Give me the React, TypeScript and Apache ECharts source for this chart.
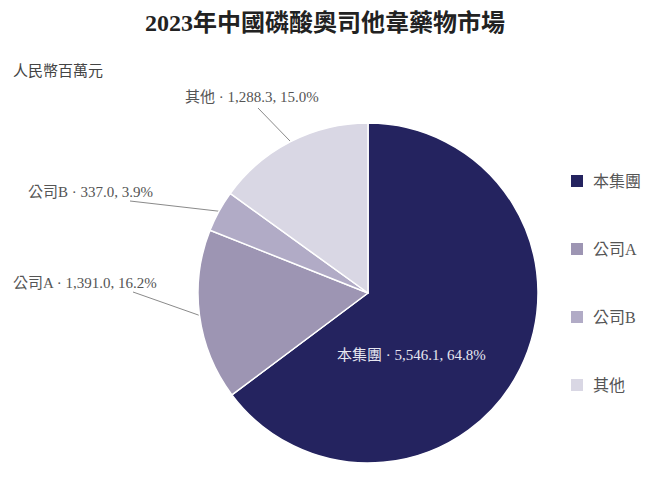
import React, { useEffect, useRef } from "react";
import * as echarts from "echarts";

const categories = ["本集團", "公司A", "公司B", "其他"];
const values = [5546.1, 1391.0, 337.0, 1288.3];
const percents = [64.8, 16.2, 3.9, 15.0];
const colors = ["#24235f", "#9d95b3", "#b1abc6", "#d9d7e4"];
const titleText = "2023年中國磷酸奧司他韋藥物市場";
const unitText = "人民幣百萬元";

const SERIF = "'Liberation Serif', 'DejaVu Serif', 'Noto Sans CJK TC', serif";

// label anchor positions and leader-line ends (layout only)
const labelPos: Record<number, { x: number; y: number; lx?: number; ly?: number }> = {
  0: { x: 337, y: 355 },
  1: { x: 13, y: 283, lx: 133, ly: 292 },
  2: { x: 28, y: 192, lx: 130, ly: 201 },
  3: { x: 185, y: 97, lx: 258, ly: 108 },
};

const fmt = (v: number) =>
  v.toLocaleString("en-US", { minimumFractionDigits: 1, maximumFractionDigits: 1 });

export default function App() {
  const ref = useRef<HTMLDivElement>(null);
  useEffect(() => {
    if (!ref.current) return;
    const chart = echarts.init(ref.current, null, { renderer: "svg" });
    const data = categories.map((name, i) => ({
      name,
      value: values[i],
      itemStyle: { color: colors[i] },
      label: i === 0 ? { color: "#e6e6ef" } : {},
      labelLine: { show: i !== 0 },
    }));
    chart.setOption({
      animation: false,
      backgroundColor: "#ffffff",
      title: {
        text: titleText,
        left: "center",
        top: 6,
        textStyle: { fontFamily: SERIF, fontSize: 24, fontWeight: "bold", color: "#222" },
      },
      graphic: [
        {
          type: "text",
          left: 13,
          top: 63,
          style: { text: unitText, font: `15px ${SERIF}`, fill: "#444" },
        },
      ],
      legend: {
        orient: "vertical",
        left: 564,
        top: 168,
        itemGap: 52,
        itemWidth: 14,
        itemHeight: 14,
        icon: "rect",
        data: categories,
        textStyle: { fontFamily: SERIF, fontSize: 16, color: "#555", padding: [0, 0, 0, 4] },
      },
      series: [
        {
          type: "pie",
          center: [368, 293],
          radius: 170,
          startAngle: 90,
          clockwise: true,
          avoidLabelOverlap: false,
          itemStyle: { borderColor: "#ffffff", borderWidth: 1.5 },
          label: {
            show: true,
            position: "outside",
            fontFamily: SERIF,
            fontSize: 15,
            color: "#555",
            formatter: (p: any) =>
              `${p.name} · ${fmt(values[p.dataIndex])}, ${percents[p.dataIndex].toFixed(1)}%`,
          },
          labelLine: { show: true, lineStyle: { color: "#8a8a8a", width: 1 } },
          labelLayout: (params: any) => {
            const pos = labelPos[params.dataIndex];
            const out: any = { x: pos.x, y: pos.y, align: "left", verticalAlign: "middle" };
            if (pos.lx !== undefined && params.labelLinePoints && params.labelLinePoints[0]) {
              const s = params.labelLinePoints[0];
              out.labelLinePoints = [
                [s[0], s[1]],
                [pos.lx, pos.ly],
                [pos.lx, pos.ly],
              ];
            }
            return out;
          },
          data,
        },
      ],
    });
    return () => chart.dispose();
  }, []);
  return (
    <div
      ref={ref}
      style={{ position: "absolute", left: 0, top: 0, width: 650, height: 482 }}
    />
  );
}
